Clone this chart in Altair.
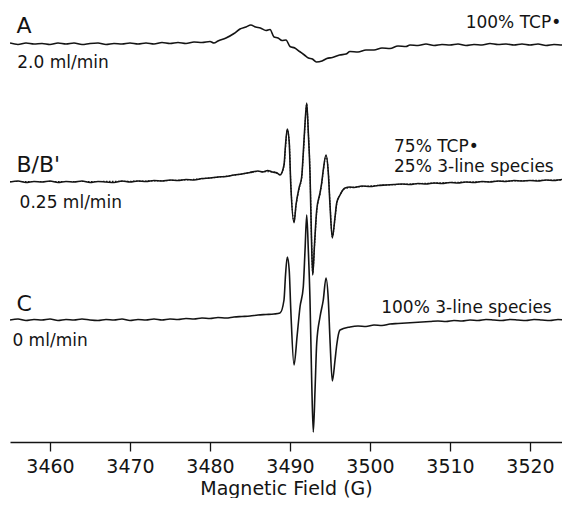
import altair as alt
import pandas as pd

# Magnetic field (G) and signal readings (arbitrary units, relative to each trace's baseline)
field_A = [3455, 3456, 3457, 3458, 3459, 3460, 3461, 3462, 3463, 3464, 3465, 3466, 3467, 3468, 3469, 3470,
           3471, 3472, 3473, 3474, 3475, 3476, 3477, 3478, 3479, 3480, 3480.5, 3481, 3482, 3483, 3483.75,
           3484.5, 3485.1, 3485.7, 3486.3, 3487, 3487.5, 3488, 3488.5, 3489, 3489.5, 3490, 3490.6, 3491.2,
           3491.8, 3492.3, 3492.8, 3493.3, 3494, 3494.6, 3495.3, 3496.2, 3497, 3497.5, 3498.5, 3499.5,
           3500.5, 3501.5, 3502.5, 3503.5, 3504.5, 3505, 3506, 3507, 3508, 3509, 3510, 3511, 3512, 3513,
           3514, 3515, 3516, 3517, 3518, 3519, 3520, 3521, 3522, 3523, 3524, 3525]
signal_A = [1, -0.5, 1, 0, 0.5, -0.5, 1, 0, 1, -0.5, 0.5, 1, -0.5, 0.5, 0, 1,
            0, 1, 0, 1.5, 0.5, 1.5, 0.5, 2, 1.5, 2.5, 1, 3, 6, 10.5, 15,
            17, 19, 17, 16, 13.5, 14.5, 7, 6, 3.5, 4, -2.5, -4, -7.5,
            -11, -14, -15, -18, -17, -14.5, -13.5, -11, -10, -7.5, -8, -6,
            -6, -4, -4.5, -2, -2.5, -1, -1.5, 0, -1.5, -0.5, -1, 0, -1.5, -0.5,
            -1, 0.5, -0.5, 0, -1, 0, -1, 0, -1.5, -0.5, -1, -0.5]

field_B = [3455, 3456, 3457, 3458, 3459, 3460, 3461, 3462, 3463, 3464, 3465, 3466, 3467, 3468, 3469, 3470,
           3471, 3472, 3473, 3474, 3475, 3476, 3477, 3478, 3479, 3480, 3481, 3482, 3483, 3484, 3485, 3486,
           3486.6, 3487.2, 3487.8, 3488.4, 3488.75,
           3489.25, 3489.44, 3489.66, 3489.9, 3490.1, 3490.5, 3490.75, 3491.16, 3491.46, 3491.66, 3491.88,
           3492.09, 3492.29, 3492.5, 3492.69, 3492.84, 3493.06, 3493.34, 3493.75, 3493.96, 3494.16, 3494.5,
           3494.79, 3495, 3495.29, 3495.63, 3495.84, 3496.25, 3496.88,
           3497.5, 3498, 3499, 3500, 3501, 3502, 3503, 3504, 3505, 3506, 3507, 3508, 3509, 3510, 3511,
           3512, 3513, 3514, 3515, 3516, 3517, 3518, 3519, 3520, 3521, 3522, 3523, 3524, 3525]
signal_B = [0, 1, -0.5, 0.5, 0, 1, -0.5, 0.5, 0, 1, -0.5, 0.5, 0, -0.5, 1, 0,
            1, 0.5, 1.5, 1, 2, 1.5, 2.5, 2, 3.5, 4, 5, 5.5, 7, 8, 9.5, 11,
            10, 11.5, 10, 9, 7,
            17, 37, 53, 40, -3, -40.7, -23, -5, 5, 29, 59,
            79, 49, 9, -58, -93, -63, -28, -11, -1, 12, 27,
            9, -23, -56, -35, -21, -13, -6,
            -5, -5.5, -4, -4.5, -3.5, -3, -2.5, -2, -2.5, -1.5, -2, -1, -1.5, -0.5, -1,
            0, -0.5, 0.5, 0, 1, 0.5, 1.5, 1, 1.5, 1, 2, 1.5, 2.5, 2]

# B' : fitted (simulated) spectrum, drawn dotted
field_Bfit = [3455, 3465, 3475, 3480, 3484, 3486, 3488, 3488.75,
              3489.25, 3489.44, 3489.66, 3489.9, 3490.1, 3490.5, 3490.75, 3491.16, 3491.46, 3491.66, 3491.88,
              3492.09, 3492.29, 3492.5, 3492.69, 3492.84, 3493.06, 3493.34, 3493.75, 3493.96, 3494.16, 3494.5,
              3494.79, 3495, 3495.29, 3495.63, 3495.84, 3496.25, 3496.88,
              3500, 3505, 3510, 3515, 3520, 3525]
signal_Bfit = [0.5, 0.5, 1.5, 4, 8, 10.5, 10, 7.5,
               16, 35, 52, 41, -1, -39.5, -24, -6, 4, 27, 57,
               78, 50, 11, -56, -92, -65, -30, -12, -2, 11, 26,
               10, -21, -55, -36, -22, -13, -6.5,
               -4, -2, -0.5, 0.5, 1.5, 2]

field_C = [3455, 3456, 3457, 3458, 3459, 3460, 3461, 3462, 3463, 3464, 3465, 3466, 3467, 3468, 3469, 3470,
           3471, 3472, 3473, 3474, 3475, 3476, 3477, 3478, 3479, 3480, 3481, 3482, 3483, 3484, 3485, 3486,
           3487, 3488, 3488.75,
           3489.25, 3489.44, 3489.66, 3489.9, 3490.1, 3490.5, 3490.9, 3491.25, 3491.66, 3491.88, 3492.09,
           3492.29, 3492.5, 3492.71, 3492.91, 3493.13, 3493.34, 3493.75, 3494.16, 3494.5, 3494.79, 3495,
           3495.29, 3495.63, 3495.84, 3496.25, 3497.5,
           3498.5, 3499.5, 3500.5, 3501.5, 3502.5, 3503.5, 3504.5, 3505.5, 3506.5, 3507.5, 3508.5, 3509.5,
           3510.5, 3511.5, 3512.5, 3513.5, 3514.5, 3515.5, 3516.5, 3517.5, 3518.5, 3519.5, 3520.5, 3521.5,
           3522.5, 3523.5, 3524.5, 3525]
signal_C = [-1, 0, -1.5, -0.5, -1, 0, -1.5, -0.5, -1, 0, -1, -1.5, -0.5, -1, 0, -1.5,
            -0.5, -1, 0, -1, 0, -0.5, 0.5, 0, 1, 0.5, 1.5, 1, 2, 2.5, 3, 4,
            4.5, 5, 6,
            19, 44, 62, 49, 9, -46, -16, 12, 32, 69, 104,
            69, 19, -61, -113, -71, -24, 2, 19, 41, 19, -21,
            -62, -41, -26, -11, -8,
            -7, -7.5, -6, -6.5, -5, -4.5, -4, -3.5, -3, -2.5, -2, -2.5,
            -1.5, -2, -1, -1.5, -0.5, -1, -1.5, -0.5, -1, -1.5, -0.5, -1,
            -1.5, -0.5, -1, -1]

# vertical stacking offsets of each trace
offsets = {"A": 398, "B": 260, "Bfit": 260, "C": 123}

# annotation labels: text, field position, vertical position, font size
left_text = ["A", "2.0 ml/min", "B/B'", "0.25 ml/min", "75% TCP\u2022",
             "25% 3-line species", "C", "0 ml/min", "100% 3-line species"]
left_field = [3455.8, 3455.9, 3455.8, 3456.2, 3503.0, 3503.0, 3455.8, 3455.3, 3501.4]
left_pos = [409, 374, 270, 234, 290, 270, 131, 96, 129]
left_size = [22, 17, 22, 17, 17, 17, 22, 17, 17]

right_text = ["100% TCP\u2022"]
right_field = [3523.9]
right_pos = [414]

tick_values = [3460, 3470, 3480, 3490, 3500, 3510, 3520]

FONT = "DejaVu Sans"
INK = "#141414"


def trace(name, fields, signals):
    return pd.DataFrame({"field": fields,
                         "pos": [offsets[name] + s for s in signals],
                         "trace": name})


solid = pd.concat([trace("A", field_A, signal_A),
                   trace("B", field_B, signal_B),
                   trace("C", field_C, signal_C)], ignore_index=True)
fit = trace("Bfit", field_Bfit, signal_Bfit)
labels_left = pd.DataFrame({"text": left_text, "field": left_field, "pos": left_pos, "size": left_size})
labels_right = pd.DataFrame({"text": right_text, "field": right_field, "pos": right_pos})

xscale = alt.Scale(domain=[3455, 3524], nice=False, zero=False)
yscale = alt.Scale(domain=[0, 434], nice=False, zero=False)

xaxis = alt.Axis(title="Magnetic Field (G)", values=tick_values, format="d",
                 grid=False, domainColor=INK, domainWidth=1.3,
                 tickColor=INK, tickWidth=1.3, tickSize=9,
                 labelFont=FONT, labelFontSize=19, labelColor=INK, labelPadding=6,
                 titleFont=FONT, titleFontSize=19, titleFontWeight="normal",
                 titleColor=INK, titlePadding=3)

lines = alt.Chart(solid).mark_line(color=INK, strokeWidth=1.6, interpolate="monotone",
                                   clip=True).encode(
    x=alt.X("field:Q", scale=xscale, axis=xaxis),
    y=alt.Y("pos:Q", scale=yscale, axis=None),
    detail="trace:N")

fit_line = alt.Chart(fit).mark_line(color=INK, strokeWidth=1.2, strokeDash=[1.5, 1.5],
                                    interpolate="monotone", clip=True).encode(
    x=alt.X("field:Q", scale=xscale),
    y=alt.Y("pos:Q", scale=yscale))

texts_left = alt.Chart(labels_left).mark_text(
    align="left", baseline="alphabetic", font=FONT, color=INK).encode(
    x=alt.X("field:Q", scale=xscale), y=alt.Y("pos:Q", scale=yscale),
    text="text:N", size=alt.Size("size:Q", scale=None))

texts_right = alt.Chart(labels_right).mark_text(
    align="right", baseline="alphabetic", font=FONT, color=INK, fontSize=17).encode(
    x=alt.X("field:Q", scale=xscale), y=alt.Y("pos:Q", scale=yscale),
    text="text:N")

chart = alt.layer(lines, fit_line, texts_left, texts_right).properties(
    width=552, height=434,
    padding={"left": 2, "right": 0, "top": 0, "bottom": 0},
).configure_view(strokeWidth=0)

chart.save("out.html", embed_options={"renderer": "svg", "actions": False})
